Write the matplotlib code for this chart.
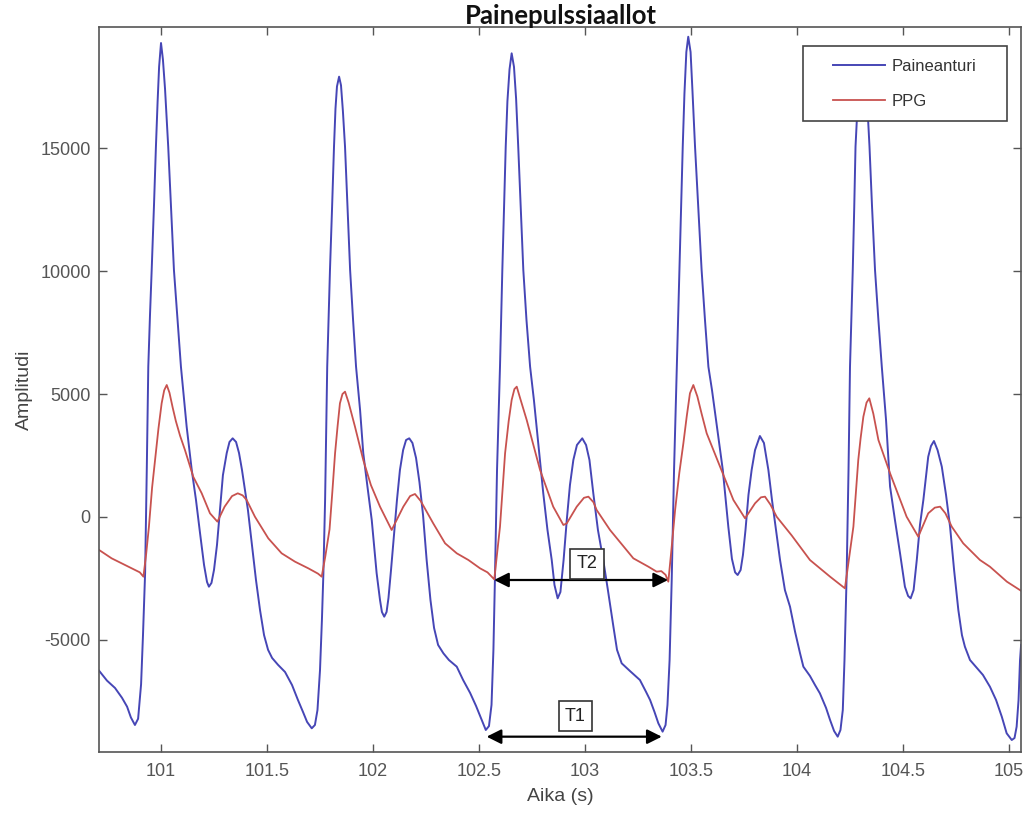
import matplotlib
matplotlib.use("Agg")
import matplotlib.pyplot as plt
from matplotlib.patches import Rectangle

plt.rcParams['font.family'] = ['Liberation Sans', 'DejaVu Sans']

# ---- data ----
time_paine = [
    100.708, 100.745, 100.783, 100.816, 100.840, 100.858, 100.877, 100.892, 100.906, 100.915,
    100.925, 100.933, 100.940, 100.948, 100.956, 100.967, 100.976, 100.984, 100.991, 101.000,
    101.009, 101.019, 101.034, 101.047, 101.061, 101.078, 101.094, 101.121, 101.145, 101.165,
    101.184, 101.203, 101.217, 101.226, 101.238, 101.250, 101.264, 101.278, 101.292, 101.310,
    101.323, 101.338, 101.354, 101.368, 101.382, 101.396, 101.410, 101.429, 101.448, 101.467,
    101.486, 101.505, 101.524, 101.552, 101.585, 101.618, 101.646, 101.670, 101.689, 101.711,
    101.726, 101.738, 101.750, 101.759, 101.766, 101.774, 101.784, 101.797, 101.807, 101.816,
    101.823, 101.830, 101.840, 101.849, 101.858, 101.868, 101.880, 101.892, 101.906, 101.920,
    101.939, 101.954, 101.974, 101.994, 102.007, 102.017, 102.033, 102.042, 102.053, 102.064,
    102.073, 102.085, 102.099, 102.113, 102.127, 102.142, 102.156, 102.171, 102.186, 102.203,
    102.219, 102.236, 102.253, 102.271, 102.288, 102.307, 102.332, 102.358, 102.395, 102.425,
    102.458, 102.486, 102.509, 102.532, 102.547, 102.559, 102.568, 102.575, 102.585, 102.599,
    102.610, 102.618, 102.626, 102.634, 102.644, 102.654, 102.665, 102.675, 102.685, 102.697,
    102.709, 102.724, 102.741, 102.759, 102.778, 102.803, 102.823, 102.843, 102.856, 102.871,
    102.884, 102.899, 102.914, 102.929, 102.945, 102.962, 102.987, 103.005, 103.021, 103.039,
    103.061, 103.086, 103.108, 103.134, 103.151, 103.173, 103.212, 103.259, 103.288, 103.307,
    103.328, 103.346, 103.366, 103.380, 103.389, 103.399, 103.409, 103.420, 103.433, 103.445,
    103.453, 103.461, 103.469, 103.478, 103.487, 103.498, 103.507, 103.519, 103.534, 103.550,
    103.566, 103.582, 103.599, 103.618, 103.650, 103.676, 103.693, 103.708, 103.720, 103.734,
    103.745, 103.757, 103.771, 103.786, 103.802, 103.825, 103.844, 103.865, 103.882, 103.901,
    103.920, 103.943, 103.967, 103.991, 104.014, 104.030, 104.061, 104.085, 104.108, 104.137,
    104.156, 104.175, 104.192, 104.205, 104.216, 104.224, 104.234, 104.243, 104.250, 104.263,
    104.270, 104.276, 104.286, 104.297, 104.309, 104.321, 104.332, 104.342, 104.354, 104.368,
    104.384, 104.400, 104.420, 104.439, 104.462, 104.486, 104.509, 104.524, 104.536, 104.550,
    104.565, 104.580, 104.596, 104.619, 104.632, 104.646, 104.663, 104.683, 104.703, 104.722,
    104.741, 104.761, 104.778, 104.792, 104.816, 104.849, 104.877, 104.910, 104.939, 104.966,
    104.989, 105.013, 105.026, 105.036, 105.045, 105.052, 105.057]
paine = [
    -6250, -6650, -6950, -7350, -7711, -8150, -8455, -8200, -6800, -4800,
    -2276, 2000, 6110, 8200, 10040, 12700, 15053, 16900, 18300, 19268,
    18600, 17400, 15053, 12600, 10040, 8000, 6110, 3670, 1911, 691,
    -650, -1950, -2640, -2833, -2680, -2150, -1140, 285, 1700, 2600,
    3050, 3198, 3050, 2600, 1911, 1100, 285, -1140, -2561, -3780,
    -4800, -5400, -5730, -6010, -6300, -6830, -7440, -7930, -8330, -8590,
    -8455, -7850, -6220, -4190, -2276, 691, 6110, 10040, 12600, 15053,
    16600, 17500, 17900, 17550, 16500, 15053, 12600, 10040, 8000, 6110,
    4350, 2600, 1220, -122, -1340, -2276, -3374, -3860, -4052, -3860,
    -3290, -2150, -730, 691, 1911, 2720, 3130, 3198, 3010, 2400,
    1420, 80, -1748, -3374, -4510, -5200, -5541, -5813, -6084, -6626,
    -7150, -7680, -8170, -8658, -8500, -7640, -5400, -2561, 1911, 6110,
    10040, 12600, 15053, 16900, 18200, 18850, 18300, 17000, 15053, 12600,
    10040, 8000, 6110, 4756, 3130, 975, -528, -1748, -2764, -3306,
    -3050, -1748, -122, 1300, 2317, 2927, 3198, 2927, 2317, 975,
    -528, -1748, -2970, -4459, -5400, -5947, -6260, -6626, -7110, -7439,
    -7930, -8386, -8726, -8455, -7640, -5813, -2561, 1911, 6110, 10040,
    12600, 15053, 17200, 18900, 19524, 18900, 17300, 15053, 12600, 10040,
    8000, 6110, 5160, 3943, 1911, -394, -1700, -2250, -2358, -2155,
    -1545, -528, 895, 1911, 2720, 3292, 3010, 1911, 691, -528,
    -1748, -2970, -3645, -4670, -5528, -6084, -6460, -6830, -7168, -7760,
    -8252, -8700, -8930, -8658, -7846, -5813, -2426, 1911, 6110, 10040,
    12600, 15053, 16800, 17700, 17950, 17700, 16700, 15053, 12600, 10040,
    8000, 6110, 3943, 1232, -122, -1476, -2833, -3210, -3306, -2970,
    -1748, -325, 691, 2451, 2886, 3089, 2720, 2046, 895, -394,
    -2155, -3780, -4800, -5272, -5813, -6140, -6420, -6898, -7440, -8118,
    -8793, -9065, -8985, -8525, -7440, -5813, -5200]

time_ppg = [
    100.708, 100.767, 100.846, 100.877, 100.900, 100.917, 100.930, 100.943, 100.958, 100.972,
    100.988, 101.003, 101.015, 101.027, 101.040, 101.055, 101.070, 101.090, 101.113, 101.152,
    101.192, 101.231, 101.266, 101.300, 101.335, 101.362, 101.385, 101.404, 101.443, 101.506,
    101.569, 101.632, 101.695, 101.740, 101.758, 101.775, 101.795, 101.808, 101.821, 101.833,
    101.844, 101.856, 101.868, 101.885, 101.915, 101.954, 101.990, 102.033, 102.088, 102.143,
    102.175, 102.198, 102.225, 102.284, 102.340, 102.395, 102.450, 102.505, 102.540, 102.572,
    102.585, 102.599, 102.612, 102.623, 102.640, 102.654, 102.667, 102.678, 102.695, 102.725,
    102.788, 102.850, 102.898, 102.914, 102.961, 102.995, 103.016, 103.040, 103.055, 103.118,
    103.228, 103.299, 103.338, 103.360, 103.380, 103.393, 103.408, 103.425, 103.445, 103.464,
    103.480, 103.495, 103.511, 103.530, 103.550, 103.574, 103.637, 103.700, 103.755, 103.802,
    103.830, 103.849, 103.875, 103.904, 103.975, 104.061, 104.156, 104.226, 104.245, 104.266,
    104.289, 104.300, 104.313, 104.328, 104.341, 104.360, 104.384, 104.439, 104.517, 104.572,
    104.619, 104.650, 104.675, 104.700, 104.730, 104.784, 104.863, 104.910, 104.990, 105.057]
ppg = [
    -1341, -1680, -2020, -2154, -2250, -2426, -1500, -394, 1200, 2317,
    3600, 4622, 5150, 5366, 5050, 4450, 3900, 3300, 2723, 1638,
    963, 150, -190, 420, 850, 963, 880, 691, 12, -867,
    -1476, -1816, -2087, -2300, -2426, -1600, -500, 1000, 2590, 3700,
    4622, 5000, 5095, 4650, 3670, 2317, 1300, 420, -528, 420,
    850, 935, 650, -258, -1070, -1476, -1748, -2087, -2250, -2534,
    -1500, -394, 1200, 2590, 3900, 4756, 5200, 5298, 4800, 3943,
    1911, 420, -325, -258, 420, 780, 827, 600, 285, -528,
    -1680, -2020, -2222, -2200, -2350, -2629, -1300, 285, 1800, 2996,
    4100, 5028, 5366, 4900, 4200, 3402, 2046, 691, -55, 556,
    800, 827, 500, 12, -750, -1748, -2426, -2899, -1700, -394,
    2317, 3200, 4077, 4650, 4825, 4200, 3130, 1776, 12, -800,
    150, 380, 420, 150, -394, -1070, -1748, -2020, -2629, -3000]

series_labels = ["Paineanturi", "PPG"]
x_ticks = [101, 101.5, 102, 102.5, 103, 103.5, 104, 104.5, 105]
x_tick_labels = ["101", "101.5", "102", "102.5", "103", "103.5", "104", "104.5", "105"]
y_ticks = [-5000, 0, 5000, 10000, 15000]
y_tick_labels = ["-5000", "0", "5000", "10000", "15000"]

# annotation spans (T1: pressure sensor period, T2: PPG period)
t1_span = [102.536, 103.362]
t1_level = -8930
t1_label_pos = [102.955, -8100]
t2_span = [102.571, 103.392]
t2_level = -2561
t2_label_pos = [103.010, -1900]

# ---- figure ----
W, H = 1028, 814
fig = plt.figure(figsize=(W / 100, H / 100), dpi=100)
ax_l, ax_r, ax_t, ax_b = 99, 1021, 27, 752
ax = fig.add_axes([ax_l / W, 1 - ax_b / H, (ax_r - ax_l) / W, (ax_b - ax_t) / H])

blue = "#4646b6"
red = "#c8524f"
ax.plot(time_paine, paine, color=blue, lw=1.4, label=series_labels[0], zorder=2)
ax.plot(time_ppg, ppg, color=red, lw=1.3, label=series_labels[1], zorder=2.1)

ax.set_xlim(100.7075, 105.0566)
ax.set_ylim(-9553, 19919)

grey = "#555555"
ax.set_xticks(x_ticks)
ax.set_xticklabels(x_tick_labels)
ax.set_yticks(y_ticks)
ax.set_yticklabels(y_tick_labels)
ax.tick_params(direction="in", length=6, width=1, colors=grey, labelsize=13,
               top=True, right=True)
ax.tick_params(axis="x", pad=8)
ax.tick_params(axis="y", pad=6)
for sp in ax.spines.values():
    sp.set_color(grey)
    sp.set_linewidth(1.2)

ax.set_xlabel("Aika (s)", fontsize=14, color="#444444", labelpad=6)
ax.set_ylabel("Amplitudi", fontsize=14, color="#444444", labelpad=5)

fig.text(561 / W, 1 - 16 / H, "Painepulssiaallot", ha="center", va="center",
         fontsize=18.5, fontweight="bold", family="Lato", color="#111111")

# arrows
arrow_kw = dict(arrowstyle="<|-|>", color="black", lw=1.6, mutation_scale=22,
                shrinkA=0, shrinkB=0)
ax.annotate("", xy=(t1_span[0], t1_level), xytext=(t1_span[1], t1_level), arrowprops=arrow_kw)
ax.annotate("", xy=(t2_span[0], t2_level), xytext=(t2_span[1], t2_level), arrowprops=arrow_kw)
box_kw = dict(boxstyle="square,pad=0.35", fc="white", ec="#333333", lw=1.2)
ax.text(t1_label_pos[0], t1_label_pos[1], "T1", ha="center", va="center", fontsize=13,
        color="#222222", bbox=box_kw)
ax.text(t2_label_pos[0], t2_label_pos[1], "T2", ha="center", va="center", fontsize=13,
        color="#222222", bbox=box_kw)

# legend: frame drawn as a box at the reference location, entries placed inside
aw, ah = ax_r - ax_l, ax_b - ax_t
lx0, lx1, ly0, ly1 = 803, 1007, 46, 121
frame = Rectangle(((lx0 - ax_l) / aw, 1 - (ly1 - ax_t) / ah), (lx1 - lx0) / aw, (ly1 - ly0) / ah,
                  transform=ax.transAxes, fc="white", ec="#444444", lw=1.2, zorder=4)
ax.add_patch(frame)
leg = ax.legend(loc="upper left", bbox_to_anchor=((833 - ax_l) / aw, 1 - (59 - ax_t) / ah),
                borderaxespad=0, borderpad=0, fontsize=12, handlelength=3.1, handletextpad=0.4,
                labelspacing=1.2, frameon=False)
leg.set_zorder(5)
for t in leg.get_texts():
    t.set_color("#333333")

fig.savefig("out.png", dpi=100)
